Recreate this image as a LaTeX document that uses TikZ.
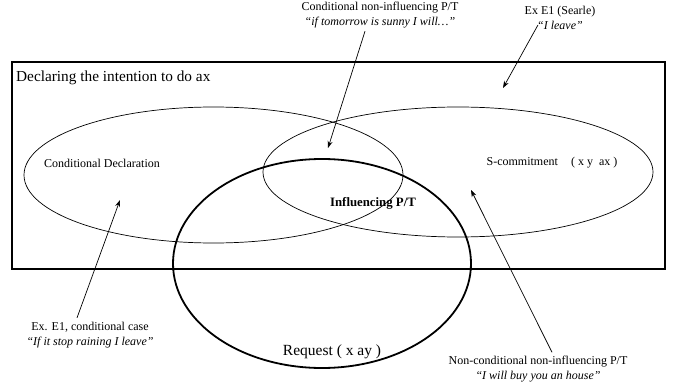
\documentclass[tikz,border=0pt]{standalone}
\usepackage{fontspec}
\setmainfont{Liberation Serif}
\usetikzlibrary{shapes.geometric,arrows.meta}
\tikzset{
  setbox/.style={draw,ellipse,inner sep=0pt,line width=0.7pt},
  lbl/.style={font=\fontsize{12}{15}\selectfont,align=center,inner sep=0pt},
  pointer/.style={-{Stealth[length=7pt,width=5pt]},line width=0.7pt},
}
\begin{document}
\begin{tikzpicture}[x=1pt,y=-1pt]
  \useasboundingbox (0,0) rectangle (677,385);
  % frame
  \draw[line width=1.4pt] (12,62) rectangle (665,269);
  \node[anchor=west,inner sep=0pt,font=\fontsize{15.3}{17}\selectfont] (declaring) at (16,78) {Declaring the intention to do ax};
  % the sets
  \node[setbox,minimum width=379pt,minimum height=136pt] (condDecl) at (213.5,175) {};
  \node[setbox,minimum width=390pt,minimum height=130pt] (sCommit) at (458,172) {};
  \node[setbox,line width=1.8pt,minimum width=298pt,minimum height=209pt] (request) at (322,263.5) {};
  \node[lbl] (condDeclLbl) at (102,163) {Conditional Declaration};
  \node[lbl] (sCommitLbl) at (552,163) {S-commitment\hspace{1.1em}( x y \ ax )};
  \node[lbl,font=\bfseries\fontsize{12.8}{14}\selectfont] (influencing) at (373,203) {Influencing P/T};
  \node[lbl,font=\fontsize{15.5}{17}\selectfont] (requestLbl) at (332,352) {Request ( x ay )};
  % examples
  \node[lbl] (exCondNonInf) at (380,15) {Conditional non-influencing P/T\\ \textit{“if tomorrow is sunny I will…”}};
  \node[lbl] (exSearle) at (560,18) {Ex E1 (Searle)\\ \textit{“I leave”}};
  \node[lbl] (exCond) at (90,335) {Ex. E1, conditional case\\ \textit{“If it stop raining I leave”}};
  \node[lbl] (exNonCond) at (538,369.5) {Non-conditional non-influencing P/T\\ \textit{“I will buy you an house”}};
  \coordinate (tipCondNonInf) at (328,148);
  \coordinate (tipSearle) at (503,88);
  \coordinate (tipCond) at (120,200);
  \coordinate (tipNonCond) at (471,190);
  \draw[pointer] ([xshift=-15pt,yshift=-3pt]exCondNonInf.south) -- (tipCondNonInf);
  \draw[pointer] ([xshift=-22pt,yshift=5pt]exSearle.south) -- (tipSearle);
  \draw[pointer] ([xshift=-13pt,yshift=4pt]exCond.north) -- (tipCond);
  \draw[pointer] ([xshift=14pt,yshift=4pt]exNonCond.north) -- (tipNonCond);
\end{tikzpicture}
\end{document}
